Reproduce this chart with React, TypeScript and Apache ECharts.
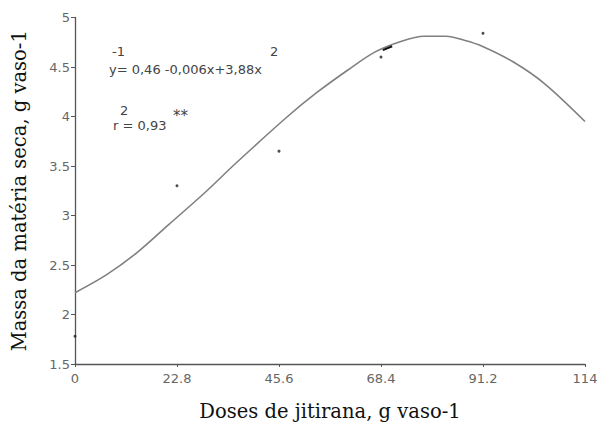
import React, { useEffect, useRef } from "react";
import * as echarts from "echarts";

// Tick labels
const xTicks = [0, 22.8, 45.6, 68.4, 91.2, 114];
const yTicks = [1.5, 2, 2.5, 3, 3.5, 4, 4.5, 5];

// Fitted curve
const curveX = [0, 7, 14, 21, 29, 36, 47, 54, 61, 67, 73, 78, 83, 87, 91, 98, 105, 114];
const curveY = [2.22, 2.4, 2.63, 2.91, 3.23, 3.53, 3.98, 4.24, 4.47, 4.65, 4.76, 4.81, 4.81, 4.77, 4.71, 4.55, 4.33, 3.95];

// Observed points
const pointX = [0, 22.8, 45.6, 68.4, 91.2];
const pointY = [1.78, 3.3, 3.65, 4.6, 4.84];

// Small dark dash near the 68.4 point
const dashX = [68.8, 70.9];
const dashY = [4.67, 4.71];

const xTitle = "Doses de jitirana, g vaso-1";
const yTitle = "Massa da matéria seca, g vaso-1";

export default function App() {
  const ref = useRef<HTMLDivElement>(null);
  useEffect(() => {
    if (!ref.current) return;
    const chart = echarts.init(ref.current, null, { renderer: "svg" });
    const fmt = (v: number) => String(Math.round(v * 10) / 10);
    const sans = "'DejaVu Sans', sans-serif";
    const serif = "'DejaVu Serif', serif";
    const ann = `13px ${sans}`;
    chart.setOption({
      animation: false,
      backgroundColor: "#ffffff",
      grid: { left: 75, right: 17, top: 17.5, bottom: 61 },
      xAxis: {
        type: "value",
        min: xTicks[0],
        max: xTicks[xTicks.length - 1],
        interval: xTicks[1] - xTicks[0],
        axisLine: { show: true, lineStyle: { color: "#555", width: 1.3 } },
        axisTick: { show: true, length: 3, lineStyle: { color: "#555" } },
        splitLine: { show: false },
        axisLabel: {
          color: "#666",
          fontSize: 13,
          fontFamily: sans,
          margin: 8,
          formatter: fmt,
          showMaxLabel: true,
        },
        name: xTitle,
        nameLocation: "middle",
        nameGap: 37,
        nameTextStyle: { fontFamily: serif, fontSize: 19.5, color: "#111" },
      },
      yAxis: {
        type: "value",
        min: yTicks[0],
        max: yTicks[yTicks.length - 1],
        interval: 0.5,
        axisLine: { show: true, lineStyle: { color: "#555", width: 1.3 } },
        axisTick: { show: true, length: 4, lineStyle: { color: "#555" } },
        splitLine: { show: false },
        axisLabel: {
          color: "#666",
          fontSize: 13,
          fontFamily: sans,
          margin: 5,
          formatter: fmt,
        },
        name: yTitle,
        nameLocation: "middle",
        nameGap: 46,
        nameRotate: 90,
        nameTextStyle: { fontFamily: serif, fontSize: 19.5, color: "#111" },
      },
      series: [
        {
          type: "line",
          data: curveX.map((x, i) => [x, curveY[i]]),
          smooth: 0.3,
          showSymbol: false,
          lineStyle: { color: "#808080", width: 1.6 },
        },
        {
          type: "scatter",
          data: pointX.map((x, i) => [x, pointY[i]]),
          symbolSize: 3,
          itemStyle: { color: "#222" },
        },
        {
          type: "line",
          data: dashX.map((x, i) => [x, dashY[i]]),
          showSymbol: false,
          lineStyle: { color: "#111", width: 2 },
        },
      ],
      graphic: [
        { type: "text", left: 112, top: 45, style: { text: "-1", font: ann, fill: "#444" } },
        { type: "text", left: 109, top: 63, style: { text: "y= 0,46 -0,006x+3,88x", font: ann, fill: "#444" } },
        { type: "text", left: 270, top: 45, style: { text: "2", font: ann, fill: "#444" } },
        { type: "text", left: 120, top: 104, style: { text: "2", font: ann, fill: "#444" } },
        { type: "text", left: 113, top: 119, style: { text: "r = 0,93", font: ann, fill: "#444" } },
        { type: "text", left: 173, top: 108, style: { text: "**", font: `15px ${sans}`, fill: "#444" } },
      ],
    });
    return () => chart.dispose();
  }, []);
  return <div ref={ref} style={{ position: "fixed", left: 0, top: 0, width: 602, height: 426 }} />;
}
